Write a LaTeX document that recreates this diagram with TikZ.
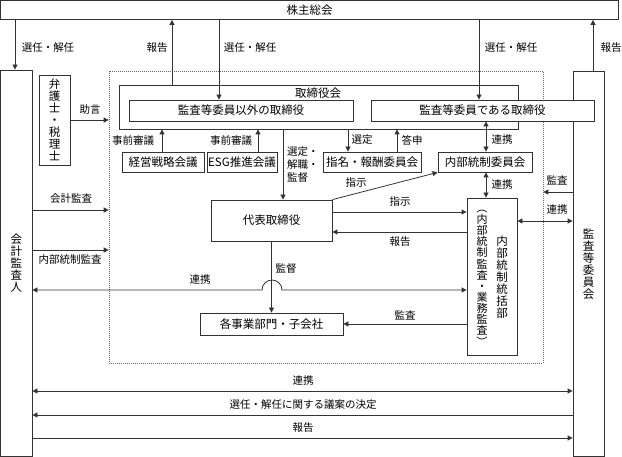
\documentclass[tikz,border=0pt]{standalone}
\usepackage{fontspec}
\setmainfont{Noto Sans CJK JP}
\usetikzlibrary{arrows.meta}
\begin{document}
\begin{tikzpicture}[x=1pt,y=-1pt,
  >={Triangle[length=5pt,width=5pt]},
  conn/.style={draw=black!80,line width=0.8pt},
  box/.style={draw=black!80,line width=0.8pt,fill=white,inner sep=0pt,align=center,
    font=\fontsize{11.5}{12}\selectfont},
  lbl/.style={inner sep=0pt,font=\fontsize{10.5}{13}\selectfont}]
\useasboundingbox (0,0) rectangle (622,457);

\node[draw=black!60,line width=0.7pt,dash pattern=on 1pt off 1pt,minimum width=434pt,minimum height=292pt] (frame) at (326,217) {};
\node[box,minimum width=618pt,minimum height=19pt] (kabu) at (309.5,10) {株主総会};
\node[box,minimum width=31.5pt,minimum height=386pt] (kaikei) at (16.25,263) {会\\計\\監\\査\\人};
\node[box,minimum width=31pt,minimum height=385.5pt] (kansaiin) at (588.5,263.75) {監\\査\\等\\委\\員\\会};
\node[box,minimum width=31pt,minimum height=90pt] (bengo) at (54.5,120) {弁\\護\\士\\・\\税\\理\\士};

\node[box,minimum width=399pt,minimum height=44pt] (torikai) at (318.5,107) {};
\node[lbl,font=\fontsize{11.5}{12}\selectfont] (torikailbl) at (318,93) {取締役会};
\node[box,minimum width=224pt,minimum height=21pt] (hoka) at (241,110.5) {監査等委員以外の取締役};
\node[box,minimum width=223pt,minimum height=21pt] (kansatori) at (482.5,110.5) {監査等委員である取締役};

\node[box,minimum width=82pt,minimum height=20pt] (keiei) at (163,162) {経営戦略会議};
\node[box,minimum width=70pt,minimum height=20pt] (esg) at (242,162) {ESG推進会議};
\node[box,minimum width=98pt,minimum height=20pt] (shimei) at (372,162) {指名・報酬委員会};
\node[box,minimum width=94pt,minimum height=20pt] (naibuiin) at (485,162) {内部統制委員会};

\node[box,minimum width=121pt,minimum height=41pt] (daihyo) at (271.5,220.5) {代表取締役};
\node[box,minimum width=143pt,minimum height=22pt] (jigyo) at (271.5,324) {各事業部門・子会社};
\node[box,minimum width=50pt,minimum height=157pt] (tokatsu) at (492,276.5) {};
\node[box,draw=none,fill=none] (tokatsu1) at (502,277) {内\\部\\統\\制\\統\\括\\部};
\node[box,draw=none,fill=none,font=\fontsize{11}{11.1}\selectfont] (tokatsu2) at (482,275)
  {\rotatebox[origin=c]{-90}{（}\\内\\部\\統\\制\\監\\査\\・\\業\\務\\監\\査\\\rotatebox[origin=c]{-90}{）}};

\path[conn,->] (kabu.south -| 15,0) -- (kaikei.north -| 15,0);
\path[conn,->] (torikai.north -| 172,0) -- (kabu.south -| 172,0);
\path[conn,->] (kabu.south -| 219,0) -- (hoka.north -| 219,0);
\path[conn,->] (kabu.south -| 479,0) -- (kansatori.north -| 479,0);
\path[conn,->] (kansaiin.north -| 593,0) -- (kabu.south -| 593,0);
\path[conn,->] (bengo.east) -- (bengo.east -| frame.west);

\path[conn,->] (keiei.north -| 162,0) -- (torikai.south -| 162,0);
\path[conn,->] (esg.north -| 258,0) -- (torikai.south -| 258,0);
\path[conn,->] (torikai.south -| 283,0) -- (daihyo.north -| 283,0);
\path[conn,->] (torikai.south -| 348,0) -- (shimei.north -| 348,0);
\path[conn,->] (shimei.north -| 397,0) -- (torikai.south -| 397,0);
\path[conn,<->] (kansatori.south -| 486,0) -- (naibuiin.north -| 486,0);
\path[conn,<->] (naibuiin.south -| 486,0) -- (tokatsu.north -| 486,0);

\path[conn,->] (daihyo.north east) -- (naibuiin.south west);
\path[conn,->] (daihyo.east |- 0,212) -- (tokatsu.west |- 0,212);
\path[conn,->] (tokatsu.west |- 0,232) -- (daihyo.east |- 0,232);
\path[conn,<->] (kaikei.east |- 0,290) -- (262,290) arc[start angle=180,end angle=0,radius=10pt] -- (tokatsu.west |- 0,290);
\path[conn,->] (daihyo.south) -- (jigyo.north);
\path[conn,->] (tokatsu.west |- 0,324) -- (jigyo.east |- 0,324);

\path[conn,->] (kansaiin.west |- 0,192) -- (frame.east |- 0,192);
\path[conn,<->] (tokatsu.east |- 0,221) -- (kansaiin.west |- 0,221);
\path[conn,->] (kaikei.east |- 0,210) -- (frame.west |- 0,210);
\path[conn,->] (kaikei.east |- 0,250) -- (frame.west |- 0,250);

\path[conn,<->] (kaikei.east |- 0,391) -- (kansaiin.west |- 0,391);
\path[conn,->] (kansaiin.west |- 0,415) -- (kaikei.east |- 0,415);
\path[conn,->] (kaikei.east |- 0,438) -- (kansaiin.west |- 0,438);

\node[lbl] (l1) at (48,48) {選任・解任};
\node[lbl] (l2) at (157,48) {報告};
\node[lbl] (l3) at (250,48) {選任・解任};
\node[lbl] (l4) at (511,48) {選任・解任};
\node[lbl] (l5) at (611,48) {報告};
\node[lbl] (l6) at (90,110) {助言};
\node[lbl] (l7) at (133,141) {事前審議};
\node[lbl] (l8) at (231,141) {事前審議};
\node[lbl,align=left,anchor=west] (l9) at (287,165) {選定・\\解職・\\監督};
\node[lbl] (l10) at (362,140) {選定};
\node[lbl] (l11) at (412,140) {答申};
\node[lbl] (l12) at (502,140) {連携};
\node[lbl] (l13) at (502,185) {連携};
\node[lbl] (l14) at (356,183) {指示};
\node[lbl] (l15) at (400,202) {指示};
\node[lbl] (l16) at (400,242) {報告};
\node[lbl] (l17) at (200,280) {連携};
\node[lbl] (l18) at (286,269) {監督};
\node[lbl] (l19) at (405,315) {監査};
\node[lbl] (l20) at (557,180) {監査};
\node[lbl] (l21) at (557,210) {連携};
\node[lbl] (l22) at (71,199) {会計監査};
\node[lbl] (l23) at (70,260) {内部統制監査};
\node[lbl] (l24) at (303,381) {連携};
\node[lbl] (l25) at (303,405) {選任・解任に関する議案の決定};
\node[lbl] (l26) at (303,428) {報告};
\end{tikzpicture}
\end{document}
